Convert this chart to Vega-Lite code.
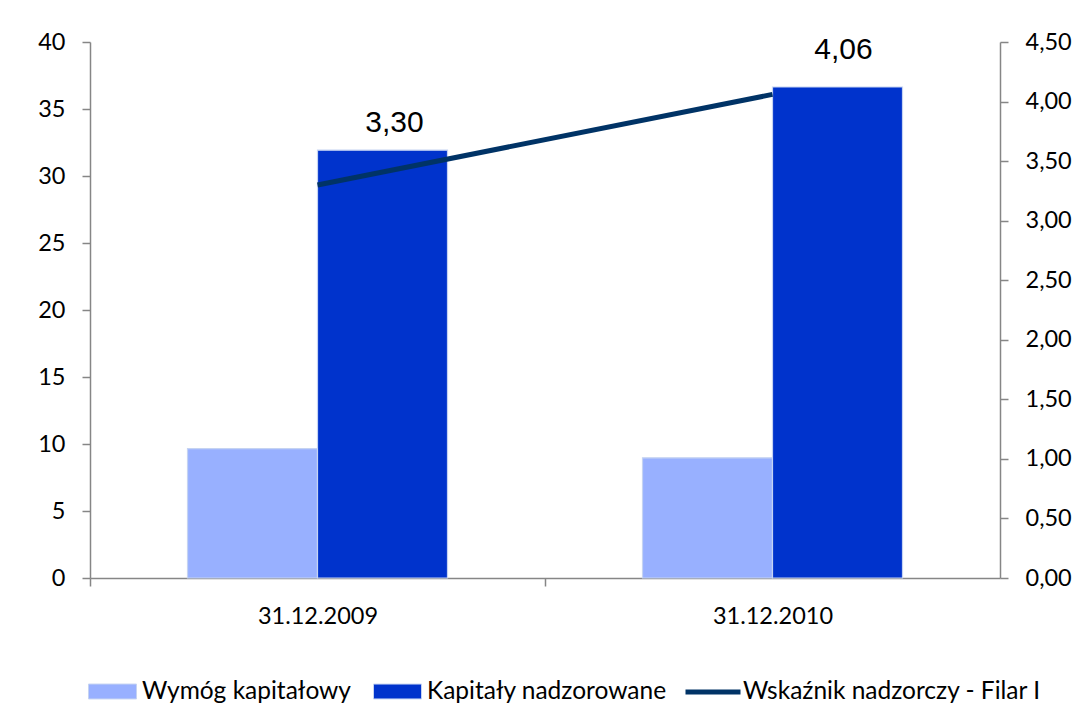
{
  "$schema": "https://vega.github.io/schema/vega-lite/v6.json",
  "width": 910,
  "height": 536,
  "autosize": {"type": "none"},
  "padding": {"left": 90, "top": 42, "right": 90, "bottom": 145},
  "background": "white",
  "config": {
    "font": "Lato",
    "view": {"stroke": null},
    "locale": {"number": {"decimal": ",", "thousands": " ", "grouping": [3], "currency": ["", " zł"]}}
  },
  "data": {
    "values": [
      {"date": "31.12.2009", "series": "Wymóg kapitałowy", "value": 9.65},
      {"date": "31.12.2009", "series": "Kapitały nadzorowane", "value": 31.93},
      {"date": "31.12.2009", "series": "Wskaźnik nadzorczy - Filar I", "value": 3.30},
      {"date": "31.12.2010", "series": "Wymóg kapitałowy", "value": 8.97},
      {"date": "31.12.2010", "series": "Kapitały nadzorowane", "value": 36.64},
      {"date": "31.12.2010", "series": "Wskaźnik nadzorczy - Filar I", "value": 4.06}
    ]
  },
  "layer": [
    {
      "transform": [{"filter": "datum.series != 'Wskaźnik nadzorczy - Filar I'"}],
      "mark": {"type": "bar", "stroke": "#C5D3F2", "strokeWidth": 1.2},
      "encoding": {
        "x": {
          "field": "date", "type": "nominal",
          "scale": {"paddingInner": 0.4286, "paddingOuter": 0.2143},
          "axis": {
            "title": null, "labelAngle": 0, "tickOffset": -227.5, "labelOffset": 227.5,
            "domainColor": "#868686", "tickColor": "#868686", "domainWidth": 1.5, "tickWidth": 1.5,
            "tickSize": 8, "labelFontSize": 23.5, "labelPadding": 18, "labelColor": "black", "labelFont": "Lato"
          }
        },
        "xOffset": {
          "field": "series", "type": "nominal",
          "sort": ["Wymóg kapitałowy", "Kapitały nadzorowane"],
          "scale": {"paddingInner": 0, "paddingOuter": 0}
        },
        "y": {
          "field": "value", "type": "quantitative",
          "scale": {"domain": [0, 40], "nice": false},
          "axis": {
            "title": null, "values": [0, 5, 10, 15, 20, 25, 30, 35, 40], "grid": false,
            "domainColor": "#868686", "tickColor": "#868686", "domainWidth": 1.5, "tickWidth": 1.5,
            "tickSize": 8, "labelFontSize": 23.5, "labelPadding": 17, "labelColor": "black"
          }
        },
        "fill": {
          "field": "series", "type": "nominal",
          "scale": {
            "domain": ["Wymóg kapitałowy", "Kapitały nadzorowane"],
            "range": ["#98B0FF", "#0033CC"]
          },
          "legend": {
            "orient": "none", "legendX": -2, "legendY": 625, "direction": "horizontal",
            "title": null, "symbolSize": 2304, "symbolType": "M-1,-0.31H1V0.31H-1Z",
            "symbolStrokeColor": "#C5D3F2", "symbolStrokeWidth": 1,
            "labelFontSize": 24.5, "labelColor": "black",
            "columnPadding": 20, "labelOffset": 5, "labelLimit": 500
          }
        }
      }
    },
    {
      "transform": [{"filter": "datum.series == 'Wskaźnik nadzorczy - Filar I'"}],
      "mark": {"type": "line", "strokeWidth": 5},
      "encoding": {
        "x": {"field": "date", "type": "nominal"},
        "y": {
          "field": "value", "type": "quantitative",
          "scale": {"domain": [0, 4.5], "nice": false},
          "axis": {
            "orient": "right", "title": null, "values": [0, 0.5, 1, 1.5, 2, 2.5, 3, 3.5, 4, 4.5], "format": ".2f", "grid": false,
            "domainColor": "#868686", "tickColor": "#868686", "domainWidth": 1.5, "tickWidth": 1.5,
            "tickSize": 8, "labelFontSize": 23.5, "labelPadding": 17, "labelColor": "black"
          }
        },
        "stroke": {
          "field": "series", "type": "nominal",
          "scale": {"domain": ["Wskaźnik nadzorczy - Filar I"], "range": ["#003366"]},
          "legend": {
            "orient": "none", "legendX": 593, "legendY": 620, "direction": "horizontal",
            "title": null, "symbolType": "stroke", "symbolSize": 3025, "symbolStrokeWidth": 5,
            "labelFontSize": 24.5, "labelColor": "black", "labelOffset": 0, "labelLimit": 500
          }
        }
      }
    },
    {
      "transform": [{"filter": "datum.series == 'Wskaźnik nadzorczy - Filar I' && datum.date == '31.12.2009'"}],
      "mark": {"type": "text", "font": "Liberation Sans", "fontSize": 30, "dx": 77, "dy": -62, "baseline": "middle", "align": "center", "color": "black"},
      "encoding": {
        "x": {"field": "date", "type": "nominal"},
        "y": {"field": "value", "type": "quantitative", "scale": {"domain": [0, 4.5], "nice": false}, "axis": null},
        "text": {"field": "value", "type": "quantitative", "format": ".2f"}
      }
    },
    {
      "transform": [{"filter": "datum.series == 'Wskaźnik nadzorczy - Filar I' && datum.date == '31.12.2010'"}],
      "mark": {"type": "text", "font": "Liberation Sans", "fontSize": 30, "dx": 71, "dy": -44, "baseline": "middle", "align": "center", "color": "black"},
      "encoding": {
        "x": {"field": "date", "type": "nominal"},
        "y": {"field": "value", "type": "quantitative", "scale": {"domain": [0, 4.5], "nice": false}, "axis": null},
        "text": {"field": "value", "type": "quantitative", "format": ".2f"}
      }
    }
  ],
  "resolve": {"scale": {"y": "independent"}}
}
